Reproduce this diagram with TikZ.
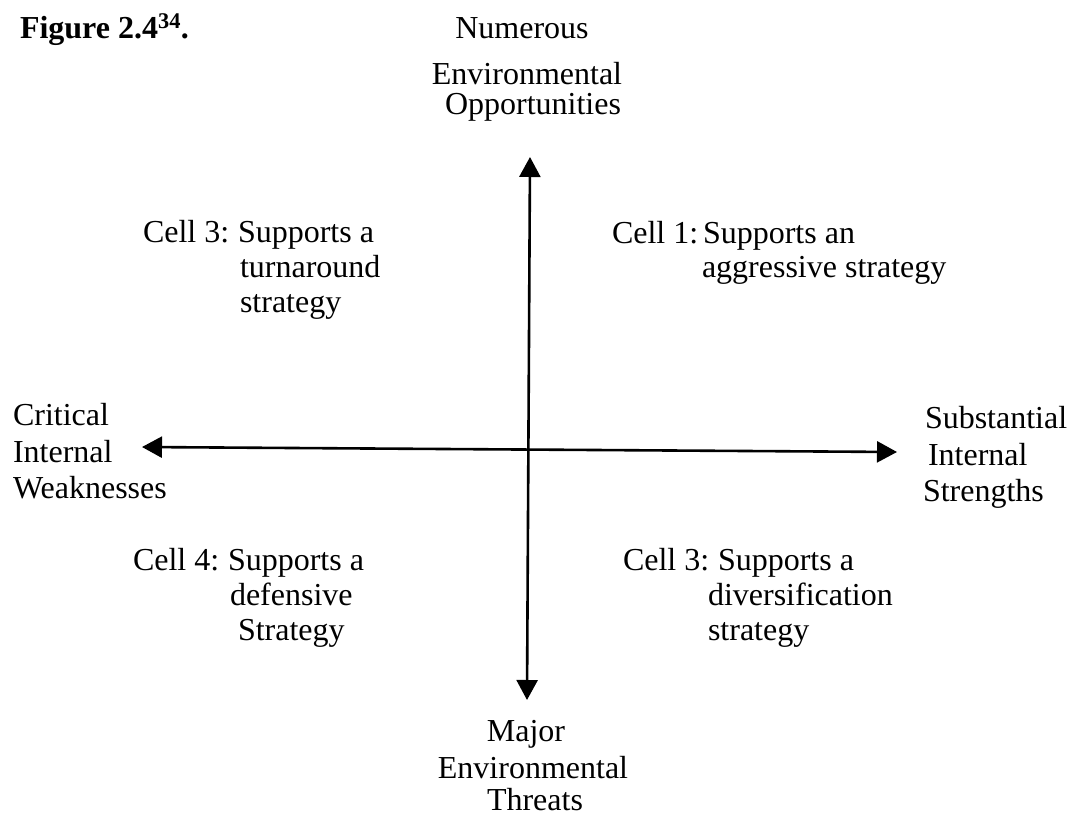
\documentclass[tikz,border=0pt]{standalone}
\usepackage{fontspec}
\setmainfont{Liberation Serif}
\usetikzlibrary{arrows.meta}
\begin{document}
\begin{tikzpicture}[x=1pt,y=-1pt,
  txt/.style={inner sep=0pt,outer sep=0pt,anchor=base west,
    font=\fontsize{32}{36}\selectfont},
  ctxt/.style={txt,anchor=base},
  axis/.style={line width=2.6pt,
    {Triangle[length=20pt,width=21pt]}-{Triangle[length=20pt,width=21pt]}}]
\useasboundingbox (0,0) rectangle (1072,817);

% title
\node[txt,font=\fontsize{32}{36}\selectfont\bfseries] (fig) at (20,38) {Figure 2.4\textsuperscript{34}.};

% axis end points
\coordinate (up)    at (530,157);
\coordinate (down)  at (527,700);
\coordinate (left)  at (142,447);
\coordinate (right) at (897,452);

\draw[axis] (down) -- (up);
\draw[axis] (left) -- (right);

% top label
\node[ctxt] (t1) at (522,38)  {Numerous};
\node[ctxt] (t2) at (527,84)  {Environmental};
\node[ctxt] (t3) at (533,114) {Opportunities};

% bottom label
\node[ctxt] (b1) at (526,741) {Major};
\node[ctxt] (b2) at (533,778) {Environmental};
\node[ctxt] (b3) at (535,810) {Threats};

% left label
\node[txt] (l1) at (13,425) {Critical};
\node[txt] (l2) at (13,462) {Internal};
\node[txt] (l3) at (13,498) {Weaknesses};

% right label
\node[txt] (r1) at (925,428) {Substantial};
\node[txt] (r2) at (928,465) {Internal};
\node[txt] (r3) at (923,501) {Strengths};

% upper left cell
\node[txt] (ula) at (143,242) {Cell 3:};
\node[txt] (ulb) at (238,242) {Supports a};
\node[txt] (ulc) at (240,277) {turnaround};
\node[txt] (uld) at (240,312) {strategy};

% upper right cell
\node[txt] (ura) at (612,243) {Cell 1:};
\node[txt] (urb) at (703,243) {Supports an};
\node[txt] (urc) at (702,277) {aggressive strategy};

% lower left cell
\node[txt] (lla) at (133,570) {Cell 4:};
\node[txt] (llb) at (228,570) {Supports a};
\node[txt] (llc) at (230,605) {defensive};
\node[txt] (lld) at (238,640) {Strategy};

% lower right cell
\node[txt] (lra) at (623,570) {Cell 3:};
\node[txt] (lrb) at (718,570) {Supports a};
\node[txt] (lrc) at (708,605) {diversification};
\node[txt] (lrd) at (708,640) {strategy};
\end{tikzpicture}
\end{document}
